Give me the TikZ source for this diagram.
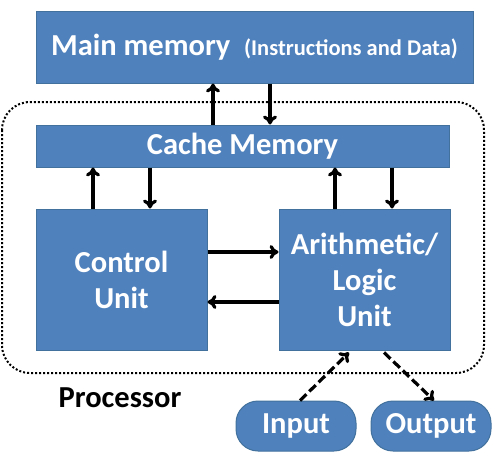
\documentclass[tikz,border=0pt]{standalone}
\usepackage{fontspec}
\setmainfont{Carlito}
\usetikzlibrary{arrows.meta,positioning}
\definecolor{boxblue}{HTML}{4F81BD}
\definecolor{boxline}{HTML}{41719C}
\begin{document}
\begin{tikzpicture}[x=1pt, y=-1pt,
    box/.style={draw=boxline, line width=1pt, fill=boxblue, text=white,
      font=\fontsize{30.5}{36}\selectfont\bfseries, align=center,
      inner sep=0pt},
    pill/.style={box, rounded corners=22pt, minimum width=120pt, minimum height=50pt},
    conn/.style={line width=3.2pt, -{To[length=9pt,width=14pt]}},
    dconn/.style={conn, dash pattern=on 9pt off 4pt}]
      \useasboundingbox (0,0) rectangle (495,455);
      % processor frame
      \draw [dotted, line width=2pt, rounded corners=28pt] (2,102) rectangle (484,373);
      \node (proc) at (120,398) {\fontsize{30.5}{36}\selectfont\bfseries Processor};
      \node (mm) [box, minimum width=437pt, minimum height=72pt] at (254.5,47)
        {Main memory~~{\fontsize{22.5}{27}\selectfont(Instructions and Data)}};
      \node (cache) [box, minimum width=413pt, minimum height=42pt] at (242.5,146) {Cache Memory};
      \node (cu) [box, minimum width=171pt, minimum height=141pt] at (121.5,279.5) {Control\\Unit};
      \node (alu) [box, minimum width=171pt, minimum height=141pt, right=71pt of cu] {Arithmetic/\\Logic\\Unit};
      \node (inp) [pill] at (296,426) {Input};
      \node (outp) [pill, right=14pt of inp] {Output};
      \draw [conn] ([xshift=-29.5pt]cache.north) to ([xshift=-29.5pt]cache.north |- mm.south);
      \draw [conn] ([xshift=27.5pt]cache.north |- mm.south) to ([xshift=27.5pt]cache.north);
      \draw [conn] ([xshift=-28.5pt]cu.north) to ([xshift=-28.5pt]cu.north |- cache.south);
      \draw [conn] ([xshift=28.5pt]cu.north |- cache.south) to ([xshift=28.5pt]cu.north);
      \draw [conn] ([xshift=-29.5pt]alu.north) to ([xshift=-29.5pt]alu.north |- cache.south);
      \draw [conn] ([xshift=27.5pt]alu.north |- cache.south) to ([xshift=27.5pt]alu.north);
      \draw [conn] ([yshift=27.5pt]cu.east) to ([yshift=27.5pt]cu.east -| alu.west);
      \draw [conn] ([yshift=-22.5pt]alu.west) to ([yshift=-22.5pt]alu.west -| cu.east);
      \draw [dconn] ([xshift=4pt]inp.north) to ([xshift=-15.5pt,yshift=-2pt]alu.south);
      \draw [dconn] ([xshift=19.5pt,yshift=-2pt]alu.south) to ([xshift=3pt]outp.north);
\end{tikzpicture}
\end{document}
